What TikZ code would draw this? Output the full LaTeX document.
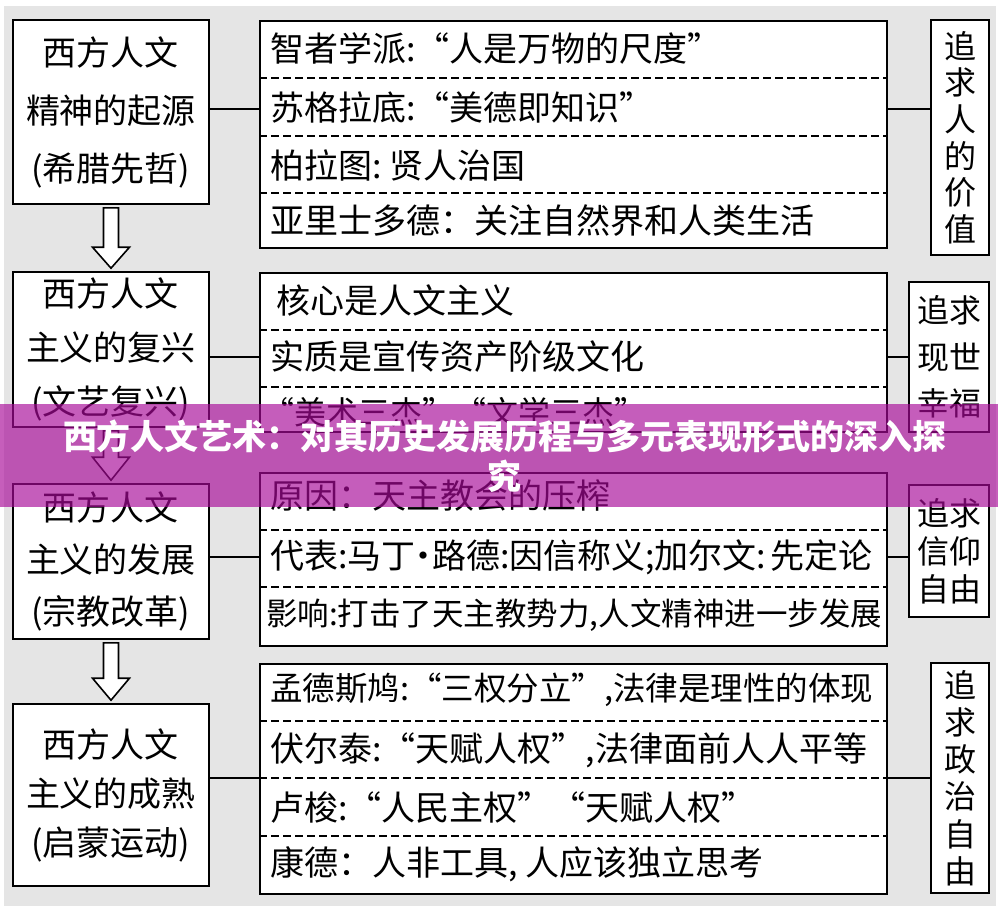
\documentclass[tikz,border=0pt]{standalone}
\usepackage{fontspec}
\setmainfont{Noto Sans CJK SC}
\usetikzlibrary{calc}
\definecolor{bgray}{RGB}{229,229,229}
\definecolor{bannercol}{RGB}{168,10,152}
\newcommand\flowarrow[3]{\draw[barrow] ($(#1.south)+(-7.5,3)$) -- ($(#2.north)+(-7.5,-#3)$) -- ($(#2.north)+(-18.5,-#3)$) -- ($(#2.north)+(0,-3)$) -- ($(#2.north)+(18.5,-#3)$) -- ($(#2.north)+(7.5,-#3)$) -- ($(#1.south)+(7.5,3)$) -- cycle;}
\newcommand\middot{\kern-0.26em·\kern-0.26em}
\begin{document}
\begin{tikzpicture}[x=1pt,y=-1pt,
  box/.style={draw=black,line width=1.6pt,fill=white,inner sep=0pt},
  sep/.style={line width=1.3pt,dash pattern=on 8pt off 4pt},
  link/.style={line width=1.6pt},
  lefttxt/.style={align=center},
  midtxt/.style={anchor=west,font=\fontsize{34}{38}\selectfont,inner sep=0pt},
  righttxt/.style={align=center},
  barrow/.style={draw=black,line width=1.6pt,fill=white,line join=miter}]
\useasboundingbox (0,0) rectangle (1005,913);
\fill[bgray] (4,6) rectangle (996,906);

% left boxes
\node[box,lefttxt,font=\fontsize{34}{58}\selectfont,minimum width=196pt,minimum height=184pt] (L1) at (111,112) {西方人文\\精神的起源\\(希腊先哲)};
\node[box,lefttxt,font=\fontsize{34}{54}\selectfont,minimum width=196pt,minimum height=155pt] (L2) at (111,349.5) {西方人文\\主义的复兴\\(文艺复兴)};
\node[box,lefttxt,font=\fontsize{34}{52}\selectfont,minimum width=196pt,minimum height=155pt] (L3) at (111,561.5) {西方人文\\主义的发展\\(宗教改革)};
\node[box,lefttxt,font=\fontsize{34}{49}\selectfont,minimum width=196pt,minimum height=182pt] (L4) at (111,795) {西方人文\\主义的成熟\\(启蒙运动)};

% arrows
\flowarrow{L1}{L2}{24}
\flowarrow{L2}{L3}{26}
\flowarrow{L3}{L4}{25}

% middle boxes
\node[box,anchor=north west,minimum width=627pt,minimum height=227pt] (M1) at (259,20) {};
\node[box,anchor=north west,minimum width=627pt,minimum height=159pt] (M2) at (259,272) {};
\node[box,anchor=north west,minimum width=627pt,minimum height=173pt] (M3) at (259,472) {};
\node[box,anchor=north west,minimum width=627pt,minimum height=230pt] (M4) at (259,663) {};

\draw[sep] (M1.west |- 0,78) -- (M1.east |- 0,78);
\draw[sep] (M1.west |- 0,136) -- (M1.east |- 0,136);
\draw[sep] (M1.west |- 0,193) -- (M1.east |- 0,193);
\draw[sep] (M2.west |- 0,330) -- (M2.east |- 0,330);
\draw[sep] (M2.west |- 0,387) -- (M2.east |- 0,387);
\draw[sep] (M3.west |- 0,530) -- (M3.east |- 0,530);
\draw[sep] (M3.west |- 0,587) -- (M3.east |- 0,587);
\draw[sep] (M4.west |- 0,721) -- (M4.east |- 0,721);
\draw[sep] (M4.west |- 0,778) -- (M4.east |- 0,778);
\draw[sep] (M4.west |- 0,836) -- (M4.east |- 0,836);

\node[midtxt] (t11) at (270,49) {智者学派:“人是万物的尺度”};
\node[midtxt] (t12) at (270,108) {苏格拉底:“美德即知识”};
\node[midtxt] (t13) at (270,165) {柏拉图:\hspace{8pt}贤人治国};
\node[midtxt] (t14) at (270,221) {亚里士多德：关注自然界和人类生活};
\node[midtxt] (t21) at (276,300) {核心是人文主义};
\node[midtxt,font=\fontsize{32}{38}\selectfont] (t23) at (262,412) {“美术三杰”“文学三杰”};
\node[midtxt] (t22) at (270,357) {实质是宣传资产阶级文化};
\node[midtxt] (t31) at (270,495) {原因：天主教会的压榨};
\node[midtxt] (t32) at (270,557) {代表:马丁\middot 路德:因信称义;加尔文:\hspace{4pt}先定论};
\node[midtxt,font=\fontsize{31.5}{38}\selectfont] (t33) at (266,615) {影响:打击了天主教势力,人文精神进一步发展};
\node[midtxt,font=\fontsize{32.5}{38}\selectfont] (t41) at (270,690) {孟德斯鸠:“三权分立”,法律是理性的体现};
\node[midtxt] (t42) at (270,750) {伏尔泰:“天赋人权”,法律面前人人平等};
\node[midtxt] (t43) at (270,808) {卢梭:“人民主权”“天赋人权”};
\node[midtxt] (t44) at (270,864) {康德：人非工具,\hspace{8pt}人应该独立思考};

% right boxes
\node[box,righttxt,font=\fontsize{32}{36.6}\selectfont,minimum width=58pt,minimum height=235pt] (R1) at (960,137.5) {追\\求\\人\\的\\价\\值};
\node[box,righttxt,font=\fontsize{32}{46.5}\selectfont,minimum width=80pt,minimum height=150pt] (R2) at (949,357) {追求\\现世\\幸福};
\node[box,righttxt,font=\fontsize{32}{38}\selectfont,minimum width=80pt,minimum height=132pt] (R3) at (949,551) {追求\\信仰\\自由};
\node[box,righttxt,font=\fontsize{32}{37.2}\selectfont,minimum width=58pt,minimum height=230pt] (R4) at (960,778) {追\\求\\政\\治\\自\\由};

% connectors
\draw[link] (L1.east |- 0,109) -- (M1.west |- 0,109);
\draw[link] (M1.east |- 0,109) -- (R1.west |- 0,109);
\draw[link] (L2.east |- 0,357) -- (M2.west |- 0,357);
\draw[link] (M2.east |- 0,357) -- (R2.west |- 0,357);
\draw[link] (L3.east |- 0,557) -- (M3.west |- 0,557);
\draw[link] (M3.east |- 0,557) -- (R3.west |- 0,557);
\draw[link] (L4.east |- 0,778) -- (M4.west |- 0,778);
\draw[link] (M4.east |- 0,778) -- (R4.west |- 0,778);

% banner
\fill[bannercol,opacity=0.66] (0,404) rectangle (998,507);
\node[font=\fontsize{34}{40}\selectfont\bfseries,text=white,align=center,inner sep=0pt] (title) at (505,456) {西方人文艺术：对其历史发展历程与多元表现形式的深入探\\究};
\end{tikzpicture}
\end{document}
